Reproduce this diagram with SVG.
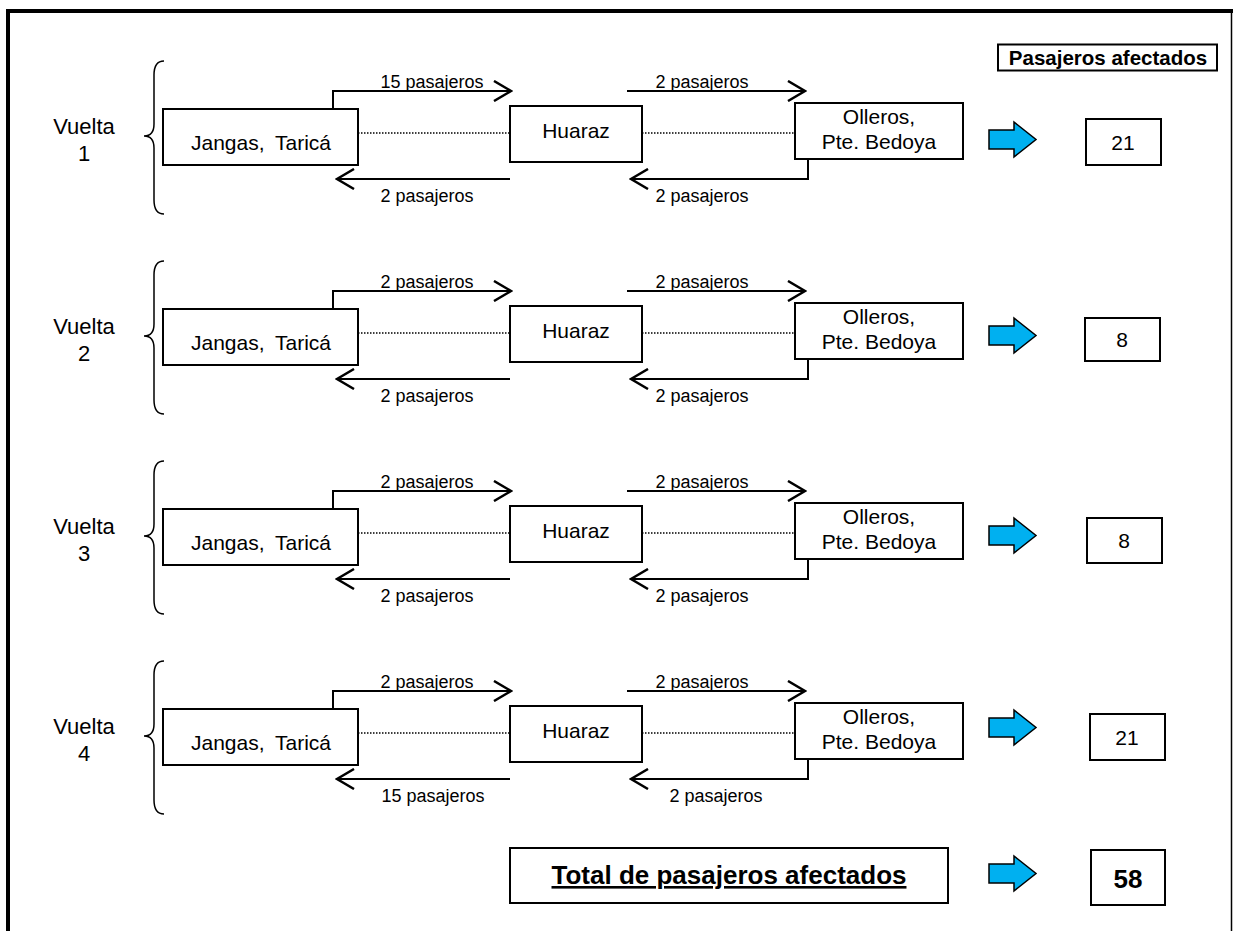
<svg xmlns="http://www.w3.org/2000/svg" width="1233" height="931" viewBox="0 0 1233 931">
<style>
text{font-family:"Liberation Sans",Arial,sans-serif;fill:#000}
.node{fill:#fff;stroke:#000;stroke-width:2}
.nt{font-size:21px;text-anchor:middle}
.lbl{font-size:18px;text-anchor:middle}
.vt{font-size:22px;text-anchor:middle}
.ln{fill:none;stroke:#000;stroke-width:2}
.dot{fill:none;stroke:#000;stroke-width:1.5;stroke-dasharray:1.5 1.5}
.brace{fill:none;stroke:#000;stroke-width:1.5}
.blue{fill:#00B0F0;stroke:#000;stroke-width:1.5}
.bold{font-weight:bold}
</style>
<defs>
<marker id="ah" markerWidth="20" markerHeight="22" refX="18" refY="11" orient="auto" markerUnits="userSpaceOnUse">
<path d="M1,1 L18,11 L1,21" fill="none" stroke="#000" stroke-width="2.5"/>
</marker>
</defs>
<rect width="1233" height="931" fill="#fff"/>
<g id="frame">
<line x1="6" y1="11" x2="1233" y2="11" stroke="#000" stroke-width="4"/>
<line x1="8" y1="9" x2="8" y2="931" stroke="#000" stroke-width="4"/>
<line x1="1231.5" y1="11" x2="1231.5" y2="931" stroke="#000" stroke-width="1.5"/>
</g>
<g id="header">
<rect x="998" y="44.5" width="219" height="26" fill="#fff" stroke="#000" stroke-width="2"/>
<text x="1108" y="65" class="bold" font-size="20.5" text-anchor="middle">Pasajeros afectados</text>
</g>

<g id="connectors">
<!-- row 1 -->
<line class="dot" x1="358" y1="133" x2="510" y2="133"/>
<line class="dot" x1="642" y1="133" x2="795" y2="133"/>
<path class="ln" d="M333,108 V91 H511" marker-end="url(#ah)"/>
<path class="ln" d="M627,91 H805" marker-end="url(#ah)"/>
<path class="ln" d="M510,179 H337" marker-end="url(#ah)"/>
<path class="ln" d="M808,159 V179 H631" marker-end="url(#ah)"/>
<!-- row 2 -->
<line class="dot" x1="358" y1="333" x2="510" y2="333"/>
<line class="dot" x1="642" y1="333" x2="795" y2="333"/>
<path class="ln" d="M333,308 V291 H511" marker-end="url(#ah)"/>
<path class="ln" d="M627,291 H805" marker-end="url(#ah)"/>
<path class="ln" d="M510,379 H337" marker-end="url(#ah)"/>
<path class="ln" d="M808,359 V379 H631" marker-end="url(#ah)"/>
<!-- row 3 -->
<line class="dot" x1="358" y1="533" x2="510" y2="533"/>
<line class="dot" x1="642" y1="533" x2="795" y2="533"/>
<path class="ln" d="M333,508 V491 H511" marker-end="url(#ah)"/>
<path class="ln" d="M627,491 H805" marker-end="url(#ah)"/>
<path class="ln" d="M510,579 H337" marker-end="url(#ah)"/>
<path class="ln" d="M808,559 V579 H631" marker-end="url(#ah)"/>
<!-- row 4 -->
<line class="dot" x1="358" y1="733" x2="510" y2="733"/>
<line class="dot" x1="642" y1="733" x2="795" y2="733"/>
<path class="ln" d="M333,708 V691 H511" marker-end="url(#ah)"/>
<path class="ln" d="M627,691 H805" marker-end="url(#ah)"/>
<path class="ln" d="M510,779 H337" marker-end="url(#ah)"/>
<path class="ln" d="M808,759 V779 H631" marker-end="url(#ah)"/>
<!-- labels -->
<text class="lbl" x="432" y="88">15 pasajeros</text>
<text class="lbl" x="702" y="88">2 pasajeros</text>
<text class="lbl" x="427" y="202">2 pasajeros</text>
<text class="lbl" x="702" y="202">2 pasajeros</text>
<text class="lbl" x="427" y="288">2 pasajeros</text>
<text class="lbl" x="702" y="288">2 pasajeros</text>
<text class="lbl" x="427" y="402">2 pasajeros</text>
<text class="lbl" x="702" y="402">2 pasajeros</text>
<text class="lbl" x="427" y="488">2 pasajeros</text>
<text class="lbl" x="702" y="488">2 pasajeros</text>
<text class="lbl" x="427" y="602">2 pasajeros</text>
<text class="lbl" x="702" y="602">2 pasajeros</text>
<text class="lbl" x="427" y="688">2 pasajeros</text>
<text class="lbl" x="702" y="688">2 pasajeros</text>
<text class="lbl" x="433" y="802">15 pasajeros</text>
<text class="lbl" x="716" y="802">2 pasajeros</text>
</g>

<!-- Row 1 -->
<g id="vuelta1">
<path class="brace" d="M164,61 Q154,61 154,75 L154,124 Q154,136 144,136 Q154,136 154,148 L154,200 Q154,214 164,214"/>
<text class="vt" x="84" y="134">Vuelta</text>
<text class="vt" x="84" y="161">1</text>
</g>
<g id="jangas1"><rect class="node" x="163" y="109" width="195" height="56"/><text class="nt" x="261" y="150" word-spacing="5">Jangas, Taricá</text></g>
<g id="huaraz1"><rect class="node" x="510" y="106" width="132" height="56"/><text class="nt" x="576" y="138">Huaraz</text></g>
<g id="olleros1"><rect class="node" x="795" y="103" width="168" height="56"/><text class="nt" x="879" y="124">Olleros,</text><text class="nt" x="879" y="149">Pte. Bedoya</text></g>
<g id="arrow1"><path class="blue" d="M989,130 H1014 V122 L1036,139.5 L1014,157 V149 H989 Z"/></g>
<g id="total1"><rect class="node" x="1086" y="119" width="75" height="46"/><text class="nt" x="1123" y="150">21</text></g>

<!-- Row 2 -->
<g id="vuelta2">
<path class="brace" d="M164,261 Q154,261 154,275 L154,324 Q154,336 144,336 Q154,336 154,348 L154,400 Q154,414 164,414"/>
<text class="vt" x="84" y="334">Vuelta</text>
<text class="vt" x="84" y="361">2</text>
</g>
<g id="jangas2"><rect class="node" x="163" y="309" width="195" height="56"/><text class="nt" x="261" y="350" word-spacing="5">Jangas, Taricá</text></g>
<g id="huaraz2"><rect class="node" x="510" y="306" width="132" height="56"/><text class="nt" x="576" y="338">Huaraz</text></g>
<g id="olleros2"><rect class="node" x="795" y="303" width="168" height="56"/><text class="nt" x="879" y="324">Olleros,</text><text class="nt" x="879" y="349">Pte. Bedoya</text></g>
<g id="arrow2"><path class="blue" d="M989,326 H1014 V318 L1036,335.5 L1014,353 V345 H989 Z"/></g>
<g id="total2"><rect class="node" x="1085" y="318" width="75" height="43"/><text class="nt" x="1122" y="347">8</text></g>

<!-- Row 3 -->
<g id="vuelta3">
<path class="brace" d="M164,461 Q154,461 154,475 L154,524 Q154,536 144,536 Q154,536 154,548 L154,600 Q154,614 164,614"/>
<text class="vt" x="84" y="534">Vuelta</text>
<text class="vt" x="84" y="561">3</text>
</g>
<g id="jangas3"><rect class="node" x="163" y="509" width="195" height="56"/><text class="nt" x="261" y="550" word-spacing="5">Jangas, Taricá</text></g>
<g id="huaraz3"><rect class="node" x="510" y="506" width="132" height="56"/><text class="nt" x="576" y="538">Huaraz</text></g>
<g id="olleros3"><rect class="node" x="795" y="503" width="168" height="56"/><text class="nt" x="879" y="524">Olleros,</text><text class="nt" x="879" y="549">Pte. Bedoya</text></g>
<g id="arrow3"><path class="blue" d="M989,526 H1014 V518 L1036,535.5 L1014,553 V545 H989 Z"/></g>
<g id="total3"><rect class="node" x="1087" y="518" width="75" height="45"/><text class="nt" x="1124" y="548">8</text></g>

<!-- Row 4 -->
<g id="vuelta4">
<path class="brace" d="M164,661 Q154,661 154,675 L154,724 Q154,736 144,736 Q154,736 154,748 L154,800 Q154,814 164,814"/>
<text class="vt" x="84" y="734">Vuelta</text>
<text class="vt" x="84" y="761">4</text>
</g>
<g id="jangas4"><rect class="node" x="163" y="709" width="195" height="56"/><text class="nt" x="261" y="750" word-spacing="5">Jangas, Taricá</text></g>
<g id="huaraz4"><rect class="node" x="510" y="706" width="132" height="56"/><text class="nt" x="576" y="738">Huaraz</text></g>
<g id="olleros4"><rect class="node" x="795" y="703" width="168" height="56"/><text class="nt" x="879" y="724">Olleros,</text><text class="nt" x="879" y="749">Pte. Bedoya</text></g>
<g id="arrow4"><path class="blue" d="M989,718 H1014 V710 L1036,727.5 L1014,745 V737 H989 Z"/></g>
<g id="total4"><rect class="node" x="1090" y="714" width="75" height="46"/><text class="nt" x="1127" y="745">21</text></g>

<!-- Total -->
<g id="totalLabel"><rect class="node" x="510" y="848" width="438" height="55"/><text x="729" y="884" class="bold" font-size="26" text-anchor="middle" text-decoration="underline">Total de pasajeros afectados</text></g>
<g id="totalArrow"><path class="blue" d="M989,864 H1014 V856 L1036,873.5 L1014,891 V883 H989 Z"/></g>
<g id="totalValue"><rect class="node" x="1091" y="850" width="74" height="55"/><text x="1128" y="888" class="bold" font-size="26" text-anchor="middle">58</text></g>
</svg>
